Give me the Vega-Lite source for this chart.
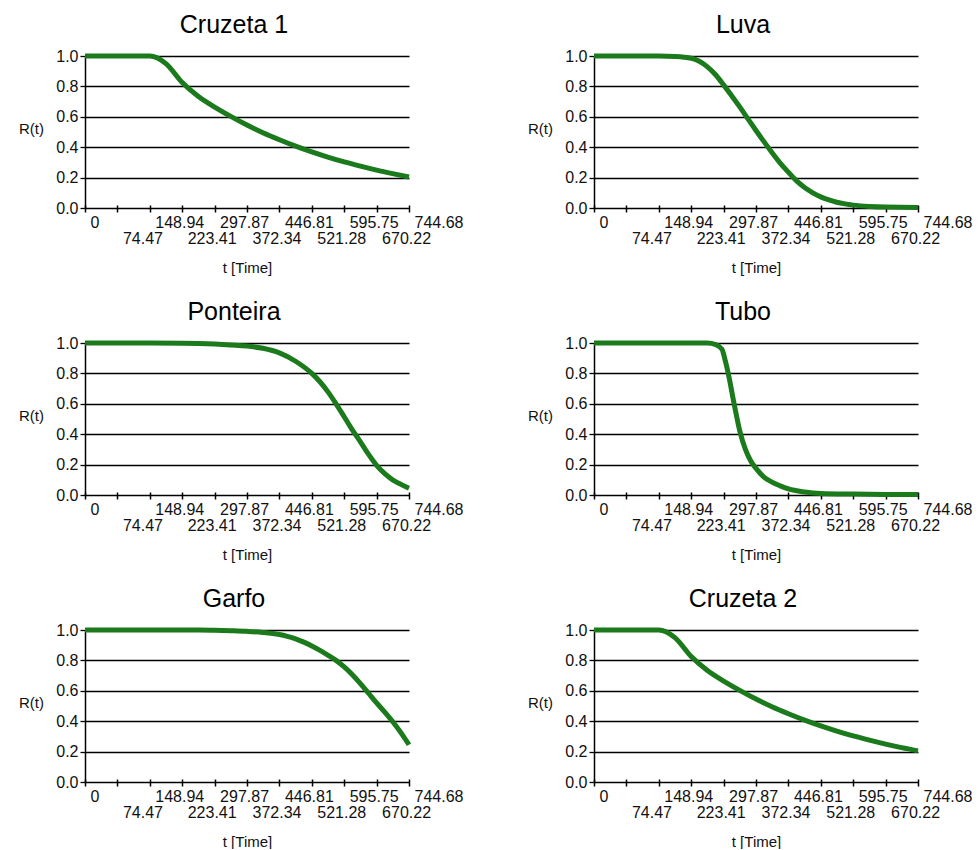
{
  "$schema": "https://vega.github.io/schema/vega-lite/v6.json",
  "background": "white",
  "padding": {"left": 18, "top": 13, "right": 5, "bottom": 0},
  "columns": 2,
  "spacing": {"row": 135, "column": 185},
  "bounds": "flush",
  "config": {
    "view": {"stroke": null},
    "font": "Liberation Sans",
    "line": {"color": "#1b7a1b", "strokeWidth": 5, "interpolate": "monotone"},
    "axis": {
      "labelFont": "Liberation Sans", "labelFontSize": 16, "labelColor": "#111",
      "titleFont": "Liberation Sans", "titleFontSize": 15, "titleFontWeight": "normal", "titleColor": "#111",
      "domainColor": "#000", "tickColor": "#000", "gridColor": "#000", "gridOpacity": 1,
      "labelOverlap": false, "labelBound": false, "labelLineHeight": 16
    },
    "axisX": {
      "grid": false, "domain": false, "offset": -3, "tickSize": 7, "tickWidth": 1.5,
      "labelAlign": "left", "labelBaseline": "top", "labelOffset": 5, "labelPadding": 2, "labelFlush": false,
      "titleX": 162, "titleY": 62, "titleAlign": "center", "titleBaseline": "middle", "titleAnchor": null
    },
    "axisY": {
      "grid": true, "gridWidth": 1.3, "domainWidth": 1.5, "tickSize": 5, "tickWidth": 1.3, "labelPadding": 2,
      "titleAngle": 0, "titleX": -54, "titleY": 72, "titleAlign": "center", "titleBaseline": "middle", "titleAnchor": null
    },
    "title": {"fontSize": 25, "font": "Liberation Sans", "fontWeight": "normal", "color": "#000", "anchor": "middle", "frame": "group", "baseline": "alphabetic", "offset": 8, "dx": -13}
  },
  "concat": [
    {
      "title": "Cruzeta 1",
      "width": 324, "height": 152,
      "data": {"values": [
        {"t": 0, "R": 1}, {"t": 148.94, "R": 1}, {"t": 186, "R": 0.95}, {"t": 223.41, "R": 0.825}, {"t": 260, "R": 0.735},
        {"t": 297.87, "R": 0.664}, {"t": 335, "R": 0.603}, {"t": 372.34, "R": 0.546}, {"t": 409, "R": 0.495}, {"t": 446.81, "R": 0.449},
        {"t": 484, "R": 0.407}, {"t": 521.28, "R": 0.369}, {"t": 558, "R": 0.335}, {"t": 595.75, "R": 0.303}, {"t": 633, "R": 0.275},
        {"t": 670.22, "R": 0.249}, {"t": 707, "R": 0.226}, {"t": 744.68, "R": 0.204}
      ]},
      "mark": "line",
      "encoding": {
        "x": {"field": "t", "type": "quantitative", "scale": {"domain": [0, 744.68], "nice": false, "zero": false},
          "axis": {"title": "t [Time]", "values": [0, 74.47, 148.94, 223.41, 297.87, 372.34, 446.81, 521.28, 595.75, 670.22, 744.68],
            "labelExpr": "indexof([74.47, 223.41, 372.34, 521.28, 670.22], datum.value) >= 0 ? ['', format(datum.value, '.2f')] : (datum.value === 0 ? '0' : format(datum.value, '.2f'))"}},
        "y": {"field": "R", "type": "quantitative", "scale": {"domain": [0, 1], "nice": false},
          "axis": {"title": "R(t)", "values": [0, 0.2, 0.4, 0.6, 0.8, 1], "format": ".1f"}}
      }
    },
    {
      "title": "Luva",
      "width": 324, "height": 152,
      "data": {"values": [
        {"t": 0, "R": 1}, {"t": 148.94, "R": 1}, {"t": 186, "R": 0.997}, {"t": 223.41, "R": 0.985}, {"t": 242, "R": 0.965},
        {"t": 260, "R": 0.93}, {"t": 280, "R": 0.875}, {"t": 297.87, "R": 0.81}, {"t": 316, "R": 0.74}, {"t": 335, "R": 0.665},
        {"t": 353, "R": 0.59}, {"t": 372.34, "R": 0.51}, {"t": 391, "R": 0.435}, {"t": 409, "R": 0.365}, {"t": 428, "R": 0.295},
        {"t": 446.81, "R": 0.235}, {"t": 465, "R": 0.18}, {"t": 484, "R": 0.135}, {"t": 503, "R": 0.1}, {"t": 521.28, "R": 0.073},
        {"t": 540, "R": 0.053}, {"t": 558, "R": 0.038}, {"t": 577, "R": 0.027}, {"t": 595.75, "R": 0.019}, {"t": 633, "R": 0.01},
        {"t": 670.22, "R": 0.006}, {"t": 744.68, "R": 0.004}
      ]},
      "mark": "line",
      "encoding": {
        "x": {"field": "t", "type": "quantitative", "scale": {"domain": [0, 744.68], "nice": false, "zero": false},
          "axis": {"title": "t [Time]", "values": [0, 74.47, 148.94, 223.41, 297.87, 372.34, 446.81, 521.28, 595.75, 670.22, 744.68],
            "labelExpr": "indexof([74.47, 223.41, 372.34, 521.28, 670.22], datum.value) >= 0 ? ['', format(datum.value, '.2f')] : (datum.value === 0 ? '0' : format(datum.value, '.2f'))"}},
        "y": {"field": "R", "type": "quantitative", "scale": {"domain": [0, 1], "nice": false},
          "axis": {"title": "R(t)", "values": [0, 0.2, 0.4, 0.6, 0.8, 1], "format": ".1f"}}
      }
    },
    {
      "title": "Ponteira",
      "width": 324, "height": 152,
      "data": {"values": [
        {"t": 0, "R": 1}, {"t": 148.94, "R": 1}, {"t": 223.41, "R": 0.999}, {"t": 297.87, "R": 0.993}, {"t": 335, "R": 0.987},
        {"t": 372.34, "R": 0.98}, {"t": 409, "R": 0.965}, {"t": 446.81, "R": 0.935}, {"t": 484, "R": 0.88}, {"t": 521.28, "R": 0.8},
        {"t": 540, "R": 0.745}, {"t": 558, "R": 0.68}, {"t": 577, "R": 0.6}, {"t": 595.75, "R": 0.515}, {"t": 614, "R": 0.43},
        {"t": 633, "R": 0.35}, {"t": 651, "R": 0.27}, {"t": 670.22, "R": 0.195}, {"t": 689, "R": 0.14}, {"t": 707, "R": 0.1},
        {"t": 726, "R": 0.07}, {"t": 744.68, "R": 0.045}
      ]},
      "mark": "line",
      "encoding": {
        "x": {"field": "t", "type": "quantitative", "scale": {"domain": [0, 744.68], "nice": false, "zero": false},
          "axis": {"title": "t [Time]", "values": [0, 74.47, 148.94, 223.41, 297.87, 372.34, 446.81, 521.28, 595.75, 670.22, 744.68],
            "labelExpr": "indexof([74.47, 223.41, 372.34, 521.28, 670.22], datum.value) >= 0 ? ['', format(datum.value, '.2f')] : (datum.value === 0 ? '0' : format(datum.value, '.2f'))"}},
        "y": {"field": "R", "type": "quantitative", "scale": {"domain": [0, 1], "nice": false},
          "axis": {"title": "R(t)", "values": [0, 0.2, 0.4, 0.6, 0.8, 1], "format": ".1f"}}
      }
    },
    {
      "title": "Tubo",
      "width": 324, "height": 152,
      "data": {"values": [
        {"t": 0, "R": 1}, {"t": 260, "R": 1}, {"t": 280, "R": 0.99}, {"t": 294, "R": 0.96}, {"t": 302, "R": 0.88},
        {"t": 310, "R": 0.78}, {"t": 322, "R": 0.6}, {"t": 336, "R": 0.41}, {"t": 348, "R": 0.3}, {"t": 360, "R": 0.225},
        {"t": 372.34, "R": 0.175}, {"t": 390, "R": 0.12}, {"t": 409, "R": 0.085}, {"t": 428, "R": 0.06}, {"t": 446.81, "R": 0.04},
        {"t": 484, "R": 0.02}, {"t": 521.28, "R": 0.01}, {"t": 595.75, "R": 0.006}, {"t": 670.22, "R": 0.004}, {"t": 744.68, "R": 0.003}
      ]},
      "mark": "line",
      "encoding": {
        "x": {"field": "t", "type": "quantitative", "scale": {"domain": [0, 744.68], "nice": false, "zero": false},
          "axis": {"title": "t [Time]", "values": [0, 74.47, 148.94, 223.41, 297.87, 372.34, 446.81, 521.28, 595.75, 670.22, 744.68],
            "labelExpr": "indexof([74.47, 223.41, 372.34, 521.28, 670.22], datum.value) >= 0 ? ['', format(datum.value, '.2f')] : (datum.value === 0 ? '0' : format(datum.value, '.2f'))"}},
        "y": {"field": "R", "type": "quantitative", "scale": {"domain": [0, 1], "nice": false},
          "axis": {"title": "R(t)", "values": [0, 0.2, 0.4, 0.6, 0.8, 1], "format": ".1f"}}
      }
    },
    {
      "title": "Garfo",
      "width": 324, "height": 152,
      "data": {"values": [
        {"t": 0, "R": 1}, {"t": 263, "R": 1}, {"t": 297.87, "R": 0.998}, {"t": 335, "R": 0.995}, {"t": 372.34, "R": 0.991},
        {"t": 409, "R": 0.984}, {"t": 446.81, "R": 0.97}, {"t": 465, "R": 0.958}, {"t": 484, "R": 0.942}, {"t": 503, "R": 0.92},
        {"t": 521.28, "R": 0.895}, {"t": 540, "R": 0.866}, {"t": 558, "R": 0.835}, {"t": 577, "R": 0.8}, {"t": 595.75, "R": 0.757},
        {"t": 614, "R": 0.707}, {"t": 633, "R": 0.647}, {"t": 651, "R": 0.586}, {"t": 670.22, "R": 0.52}, {"t": 689, "R": 0.46},
        {"t": 707, "R": 0.398}, {"t": 726, "R": 0.325}, {"t": 744.68, "R": 0.245}
      ]},
      "mark": "line",
      "encoding": {
        "x": {"field": "t", "type": "quantitative", "scale": {"domain": [0, 744.68], "nice": false, "zero": false},
          "axis": {"title": "t [Time]", "values": [0, 74.47, 148.94, 223.41, 297.87, 372.34, 446.81, 521.28, 595.75, 670.22, 744.68],
            "labelExpr": "indexof([74.47, 223.41, 372.34, 521.28, 670.22], datum.value) >= 0 ? ['', format(datum.value, '.2f')] : (datum.value === 0 ? '0' : format(datum.value, '.2f'))"}},
        "y": {"field": "R", "type": "quantitative", "scale": {"domain": [0, 1], "nice": false},
          "axis": {"title": "R(t)", "values": [0, 0.2, 0.4, 0.6, 0.8, 1], "format": ".1f"}}
      }
    },
    {
      "title": "Cruzeta 2",
      "width": 324, "height": 152,
      "data": {"values": [
        {"t": 0, "R": 1}, {"t": 148.94, "R": 1}, {"t": 186, "R": 0.95}, {"t": 223.41, "R": 0.825}, {"t": 260, "R": 0.735},
        {"t": 297.87, "R": 0.664}, {"t": 335, "R": 0.603}, {"t": 372.34, "R": 0.546}, {"t": 409, "R": 0.495}, {"t": 446.81, "R": 0.449},
        {"t": 484, "R": 0.407}, {"t": 521.28, "R": 0.369}, {"t": 558, "R": 0.335}, {"t": 595.75, "R": 0.303}, {"t": 633, "R": 0.275},
        {"t": 670.22, "R": 0.249}, {"t": 707, "R": 0.226}, {"t": 744.68, "R": 0.205}
      ]},
      "mark": "line",
      "encoding": {
        "x": {"field": "t", "type": "quantitative", "scale": {"domain": [0, 744.68], "nice": false, "zero": false},
          "axis": {"title": "t [Time]", "values": [0, 74.47, 148.94, 223.41, 297.87, 372.34, 446.81, 521.28, 595.75, 670.22, 744.68],
            "labelExpr": "indexof([74.47, 223.41, 372.34, 521.28, 670.22], datum.value) >= 0 ? ['', format(datum.value, '.2f')] : (datum.value === 0 ? '0' : format(datum.value, '.2f'))"}},
        "y": {"field": "R", "type": "quantitative", "scale": {"domain": [0, 1], "nice": false},
          "axis": {"title": "R(t)", "values": [0, 0.2, 0.4, 0.6, 0.8, 1], "format": ".1f"}}
      }
    }
  ]
}
